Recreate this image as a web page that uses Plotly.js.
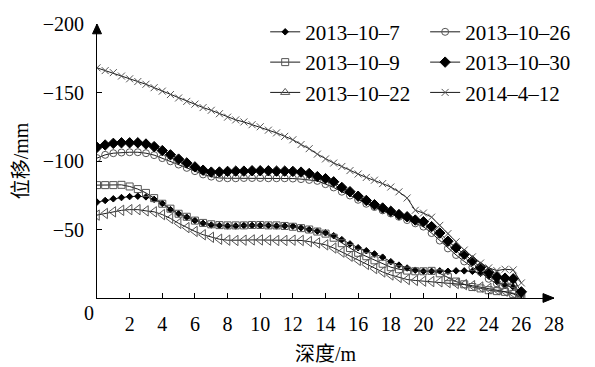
<!DOCTYPE html>
<html>
<head>
<meta charset="utf-8">
<script src="https://cdn.plot.ly/plotly-3.0.1.min.js"></script>
<style>
html,body{margin:0;padding:0;background:#fff;}
#chart{width:595px;height:367px;}
svg text{font-family:'Liberation Serif','Noto Sans CJK SC',serif !important;}
</style>
</head>
<body>
<div id="chart"></div>
<script>
// depth (m)
var depth = [0,0.5,1,1.5,2,2.5,3,3.5,4,4.5,5,5.5,6,6.5,7,7.5,8,8.5,9,9.5,10,10.5,11,11.5,12,12.5,13,13.5,14,14.5,15,15.5,16,16.5,17,17.5,18,18.5,19,19.5,20,20.5,21,21.5,22,22.5,23,23.5,24,24.5,25,25.5,26];

// displacement (mm) per survey date
var d20131007 = [-70,-71.2,-72.4,-73.3,-74,-74.3,-73.8,-72,-69,-64.5,
  -61.5,-59,-56.5,-54.5,-53.3,-52.9,-52.6,-52.6,-52.9,-53,
  -53,-52.9,-52.6,-52.6,-52.4,-51.2,-50,-48.8,-47.6,-45.5,
  -42.6,-39.5,-36.7,-34.5,-32.2,-29.8,-26.5,-24,-21.9,-20.3,
  -19.5,-19.5,-19.8,-19.5,-19.8,-19.8,-19.5,-18,-16,-12,
  -9,-8,-3];
var d20131009 = [-82.4,-82.4,-82.4,-82.6,-81.4,-79.5,-76.7,-72.9,-68.8,-65.2,
  -61.5,-59.3,-56.5,-54.8,-53.8,-53.2,-53,-53,-53,-53.3,
  -53.3,-53,-53,-52.6,-52,-51,-50,-48.5,-47,-44,
  -40,-36.5,-33,-30.5,-27.5,-25,-22.5,-21,-20,-19.5,
  -19.5,-19.8,-18,-15.2,-12,-10,-8,-7,-5.7,-5,
  -4.5,-3,0];
var d20131022 = [-60.5,-61.7,-62.9,-64,-64.5,-64.5,-63.6,-62.9,-60.9,-58.1,
  -54.5,-51.4,-48.6,-46.2,-44.3,-42.9,-42.2,-42,-42.2,-42.4,
  -42.4,-42.2,-42,-42,-42.2,-42,-41.2,-40.2,-38.8,-36.5,
  -33.5,-30.5,-27.5,-24.5,-21.5,-19,-16.8,-15,-13.5,-12.8,
  -12.3,-12,-11.8,-11.3,-10.6,-9.8,-9,-8,-7,-6,
  -5,-3.5,-1];
var d20131026 = [-102.1,-104.5,-105.7,-106.2,-106.4,-106.4,-105.7,-104.3,-102.1,-99.8,
  -97.4,-95,-92.6,-90.2,-88.6,-87.6,-87.4,-87.4,-87.6,-87.6,
  -87.6,-87.4,-87.4,-87.4,-87.2,-86.8,-86.2,-85.5,-83.1,-80.7,
  -77.6,-74.8,-71.7,-68.8,-66.4,-64,-61.7,-59.3,-56.9,-54.5,
  -52.1,-47.4,-41.9,-36.2,-31.4,-26.7,-22.4,-19,-14,-10.5,
  -10,-10,-3];
var d20131030 = [-110,-111.7,-112.9,-113.3,-113.3,-113.3,-112.4,-110.5,-107.6,-104.5,
  -101.4,-98.6,-95.7,-93.3,-91.9,-92,-92.4,-92.6,-92.6,-92.9,
  -92.9,-92.9,-92.6,-92.6,-92.4,-91.9,-90.9,-88.6,-87.1,-84.8,
  -80.7,-77.6,-74.3,-71.2,-68.1,-65.7,-63.3,-60.9,-59.3,-56.9,
  -55.7,-52.1,-47.4,-41.4,-36.7,-31.9,-27.1,-22.4,-18.8,-15.5,
  -14.5,-14,-4.5];
var d20140412 = [-168,-166,-164.5,-162,-160,-158,-156,-153.5,-151,-148.5,
  -146,-143.5,-141.5,-139,-137,-134.5,-132,-130,-128.5,-126.5,
  -125,-122.5,-120.5,-118,-115.5,-112,-109,-105,-101.5,-98.5,
  -96,-93,-90.5,-88,-86,-83.5,-81,-77.5,-73,-64,
  -62,-59,-53,-47,-41,-35,-30,-25.5,-22,-20,
  -21,-20.5,-11];

var seriesNames = ['2013–10–7','2013–10–9','2013–10–22','2013–10–26','2013–10–30','2014–4–12'];
var xTicks = [2,4,6,8,10,12,14,16,18,20,22,24,26,28];
var yTicks = [-50,-100,-150,-200];

var LINE = '#1a1a1a', GRAY = '#555';
function tr(name, y, sym, size, mcol, lcol, leg, showleg) {
  return {
    type:'scatter', mode:'lines+markers', name:name, x:depth, y:y,
    line:{color:LINE, width:1},
    marker:{symbol:sym, size:size, color:mcol, line:{color:lcol, width:1}},
    legend:leg, legendgroup:name, showlegend:showleg
  };
}
var traces = [
  tr(seriesNames[0], d20131007, 'diamond', 5, '#000', '#000', 'legend', true),
  tr(seriesNames[1], d20131009, 'square-open', 7, GRAY, GRAY, 'legend', true),
  tr(seriesNames[2], d20131022, 'triangle-left-open', 9, GRAY, GRAY, 'legend', false),
  {type:'scatter', mode:'lines+markers', name:seriesNames[2], x:[null], y:[null],
   line:{color:LINE, width:1}, marker:{symbol:'triangle-up-open', size:8, color:GRAY, line:{color:GRAY, width:1}},
   legend:'legend', legendgroup:seriesNames[2]+'_l', showlegend:true, hoverinfo:'skip'},
  tr(seriesNames[3], d20131026, 'circle-open', 7, GRAY, GRAY, 'legend2', true),
  tr(seriesNames[4], d20131030, 'diamond', 8, '#000', '#000', 'legend2', true),
  tr(seriesNames[5], d20140412, 'x-thin-open', 7, GRAY, GRAY, 'legend2', true)
];

var FONT = 'Liberation Serif';
var W = 595 - 97 - 41, H = 367 - 18 - 69;
var layout = {
  width:595, height:367,
  margin:{l:97, r:41, t:18, b:69, pad:0},
  paper_bgcolor:'#fff', plot_bgcolor:'#fff',
  font:{family:FONT, size:20, color:'#000'},
  showlegend:true,
  xaxis:{
    range:[0,28], tickvals:xTicks, ticktext:xTicks.map(String),
    ticks:'inside', ticklen:5, tickwidth:1, tickcolor:'#000',
    showline:true, linecolor:'#000', linewidth:1, showgrid:false, zeroline:false,
    ticklabelstandoff:8, tickfont:{family:FONT, size:20},
    title:{text:'深度/m', font:{family:FONT, size:20}, standoff:12}
  },
  yaxis:{
    range:[0,-200], tickvals:yTicks,
    ticks:'inside', ticklen:5, tickwidth:1, tickcolor:'#000',
    showline:true, linecolor:'#000', linewidth:1, showgrid:false, zeroline:false,
    ticklabelstandoff:8, tickfont:{family:FONT, size:20},
    title:{text:'位移/mm', font:{family:FONT, size:20}, standoff:8}
  },
  legend:{x:0.368, y:1.045, xanchor:'left', yanchor:'top', bgcolor:'rgba(0,0,0,0)',
    font:{family:FONT, size:21}, tracegroupgap:6, traceorder:'normal'},
  legend2:{x:0.718, y:1.045, xanchor:'left', yanchor:'top', bgcolor:'rgba(0,0,0,0)',
    font:{family:FONT, size:21}, tracegroupgap:6, traceorder:'normal'},
  shapes:[
    {type:'path', xref:'paper', yref:'paper',
     path:'M 0 1.0 L '+(-4.5/W)+' '+(1-10/H)+' L '+(4.5/W)+' '+(1-10/H)+' Z',
     fillcolor:'#000', line:{color:'#000', width:1}},
    {type:'path', xref:'paper', yref:'paper',
     path:'M 1 0 L '+(1-11/W)+' '+(4.5/H)+' L '+(1-11/W)+' '+(-4.5/H)+' Z',
     fillcolor:'#000', line:{color:'#000', width:1}}
  ],
  annotations:[
    {text:'0', xref:'paper', yref:'paper', x:0, y:0, xanchor:'right', yanchor:'top',
     xshift:-1, yshift:-2, showarrow:false, font:{family:FONT, size:20}}
  ]
};
Plotly.newPlot('chart', traces, layout, {displayModeBar:false, staticPlot:true});
</script>
</body>
</html>
